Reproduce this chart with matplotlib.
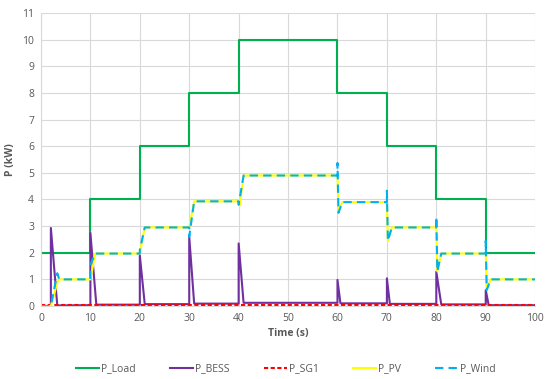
"""
Power profile of the microgrid sources and load
"""

import matplotlib
matplotlib.use("Agg")
import matplotlib.pyplot as plt

# load steps (kW)
t_load = [0, 10, 10, 20, 20, 30, 30, 40, 40, 60, 60, 70, 70, 80, 80, 90, 90, 100]
p_load = [2, 2, 4, 4, 6, 6, 8, 8, 10, 10, 8, 8, 6, 6, 4, 4, 2, 2]

# battery spikes at each step
t_bess = [0, 2, 2, 3.3, 10, 10, 11.2, 20, 20, 21, 30, 30, 31, 40, 40, 41,
          60, 60, 60.6, 70, 70, 70.6, 80, 80, 81, 90, 90, 90.6, 100]
p_bess = [0, 0, 2.93, 0.02, 0.03, 2.74, 0.05, 0.05, 1.9, 0.07, 0.07, 2.6, 0.09,
          0.09, 2.35, 0.12, 0.12, 0.98, 0.1, 0.1, 1.04, 0.08, 0.08, 1.29, 0.06,
          0.06, 0.6, 0.03, 0.03]

# diesel generator stays off
t_sg1 = [0, 100]
p_sg1 = [0.02, 0.02]

t_pv = [0, 2, 3.5, 10, 11, 20, 21, 30, 31, 40, 40.2, 41, 60, 60.2, 61, 70, 70.2, 71,
        80, 80.2, 81, 90, 90.2, 91, 100]
p_pv = [0, 0, 1.0, 1.0, 1.97, 1.97, 2.95, 2.95, 3.93, 3.93, 3.78, 4.9, 4.9, 3.6, 3.9,
        3.9, 2.45, 2.95, 2.95, 1.3, 1.97, 1.97, 0.6, 1.0, 1.0]

t_wind = [0, 2, 3.3, 3.7, 10, 10, 11, 20, 20, 21, 30, 30, 31, 40, 40, 41,
          60, 60, 60.2, 61, 70, 70, 70.2, 71, 80, 80, 80.2, 81, 90, 90, 90.2, 91, 100]
p_wind = [0, 0, 1.23, 1.0, 1.0, 1.55, 1.97, 1.97, 2.1, 2.95, 2.95, 2.6, 3.93,
          3.93, 3.8, 4.9, 4.9, 5.37, 3.5, 3.9, 3.9, 4.33, 2.45, 2.95, 2.95, 3.35,
          1.3, 1.97, 1.97, 2.45, 0.6, 1.0, 1.0]

plt.rcParams['font.family'] = ['Open Sans', 'DejaVu Sans']

fig = plt.figure(figsize=(5.5, 3.79), dpi=100)
ax = fig.add_axes([0.0745, 0.1926, 0.8985, 0.773])

ax.plot(t_load, p_load, color='#00B050', lw=1.5, label='P_Load')
ax.plot(t_bess, p_bess, color='#7030A0', lw=1.5, label='P_BESS')
ax.plot(t_sg1, p_sg1, color='#FF0000', lw=1.5, ls=(0, (2, 1.2)), label='P_SG1')
ax.plot(t_pv, p_pv, color='#FFFF00', lw=1.5, label='P_PV')
ax.plot(t_wind, p_wind, color='#00B0F0', lw=1.5, ls=(0, (4, 2.5)), label='P_Wind')

ax.set_xlim(0, 100)
ax.set_ylim(0, 11)
ax.set_xticks(range(0, 101, 10))
ax.set_yticks(range(0, 12))
ax.grid(color='#D9D9D9', lw=0.8)
ax.set_axisbelow(True)
for s in ['top', 'right']:
    ax.spines[s].set_visible(False)
for s in ['left', 'bottom']:
    ax.spines[s].set_color('#D9D9D9')
ax.tick_params(length=0, labelsize=7.5, colors='#595959', pad=5)

ax.set_xlabel('Time (s)', fontsize=7.5, color='#595959', fontweight='bold', labelpad=3)
ax.set_ylabel('P (kW)', fontsize=7.5, color='#595959', fontweight='bold', labelpad=4)

fig.legend(loc='lower center', bbox_to_anchor=(0.52, -0.012), ncol=5, frameon=False,
           fontsize=7.5, handlelength=2.2, handletextpad=0.2, columnspacing=3.3,
           labelcolor='#595959')

plt.savefig('out.png', dpi=100)
